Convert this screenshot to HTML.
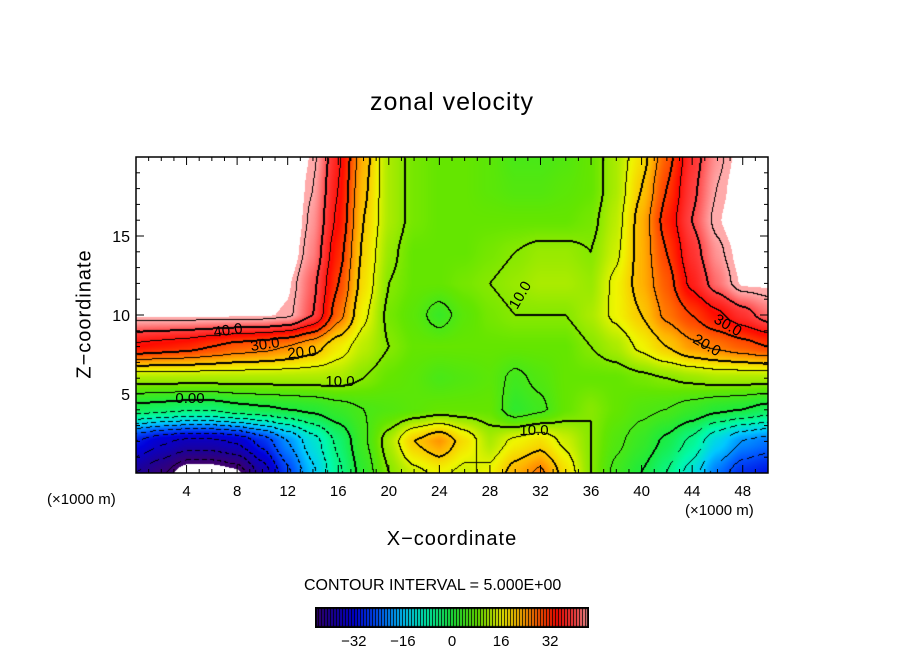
<!DOCTYPE html>
<html><head><meta charset="utf-8"><style>
body{margin:0;background:#fff;width:904px;height:654px;overflow:hidden;position:relative;font-family:"Liberation Sans",sans-serif}
.t{position:absolute;white-space:nowrap;color:#000}
</style></head><body>
<div class="t" style="left:0;width:904px;text-align:center;top:88px;font-size:25px;letter-spacing:1px">zonal velocity</div>
<canvas id="field" width="632" height="316" style="position:absolute;left:136px;top:157px"></canvas>
<svg id="ov" width="904" height="654" style="position:absolute;left:0;top:0"></svg>
<div class="t" style="left:85px;top:314px;font-size:20px;transform:translate(-50%,-50%) rotate(-90deg);letter-spacing:1px">Z−coordinate</div>
<div class="t" style="left:0;width:904px;text-align:center;top:528px;font-size:20px;letter-spacing:1px">X−coordinate</div>
<div class="t" style="left:47px;top:491px;font-size:15px">(×1000 m)</div>
<div class="t" style="left:685px;top:502px;font-size:15px">(×1000 m)</div>
<div class="t" style="left:304px;top:577px;font-size:16px">CONTOUR INTERVAL = 5.000E+00</div>
<canvas id="cbar" width="274" height="21" style="position:absolute;left:315px;top:607px"></canvas>
<script>
const xTicks=[4,8,12,16,20,24,28,32,36,40,44,48];
const zTicks=[5,10,15];
const cbTicks=[-32,-16,0,16,32];
const zLevels=[20,18,16,14,12,10,8,6,4,2,0];
const xGrid=[0,2,4,6,8,10,12,14,16,18,20,22,24,26,28,30,32,34,36,38,40,42,44,46,48,50];
const u20=[50,50,50,50,50,50,50,46,36,22,12,9,8,8,7,5,5,6,8,12,18,28,38,44,48,50];
const u18=[50,50,50,50,50,50,50,45,35,21,12,9,8,8,7,6,6,7,8,12,20,30,39,45,49,50];
const u16=[50,50,50,50,50,50,50,44,34,20,12,9,8,8,8,8,8,8,9,13,22,32,40,46,50,50];
const u14=[50,50,50,50,50,50,49,43,32,19,11,8,8,8,9,10,11,11,10,14,22,30,38,44,48,50];
const u12=[50,50,50,50,50,50,47,41,30,18,10,8,8,9,10,11,12,12,11,16,22,28,36,42,47,47];
const u10=[47,47,47,47,47,47,46,40,27,16,9,7,3,7,9,10,10,10,12,16,20,26,30,34,38,42];
const u8=[34,33,32,30,28,27,25,22,17,13,10,8,8,8,8,8,8,8,10,12,16,20,24,26,28,30];
const u6=[12,12,12,12,12,12,12,12,12,10,8,7,5,6,7,4,6,8,8,8,9,10,11,12,12,12];
const u4=[-2,-3,-4,-4,-2,-1,0,1,3,5,6,7,8,8,8,2,4,8,10,8,6,5,3,1,0,-2];
const u2=[-30,-34,-36,-36,-34,-28,-20,-12,-4,4,12,20,24,18,12,16,18,14,10,6,3,-1,-6,-14,-20,-22];
const u0=[-40,-44,-50,-50,-48,-38,-26,-16,-6,2,10,14,16,14,16,22,26,18,10,4,0,-5,-12,-22,-28,-30];
const rows=[u20,u18,u16,u14,u12,u10,u8,u6,u4,u2,u0];

const X0=136,X1=768,Y0=473,Y1=157;
const xs=v=>X0+(v-0)/50*(X1-X0);
const ys=v=>Y0-(v-0)/20*(Y0-Y1);
const stops=[[-46,[60,0,110]],[-40,[30,0,150]],[-32,[0,0,220]],[-24,[0,90,255]],[-16,[0,200,255]],[-8,[0,250,170]],[0,[30,235,60]],[8,[100,230,0]],[12,[170,235,0]],[16,[240,245,0]],[22,[255,180,0]],[28,[255,90,0]],[34,[255,10,0]],[40,[255,70,70]],[45,[255,170,170]]];
function col(v){
  if(v>46.5)return[255,255,255];if(v<-47)return[255,255,255];
  if(v<=stops[0][0])return stops[0][1];
  for(let i=1;i<stops.length;i++){if(v<=stops[i][0]){const a=stops[i-1],b=stops[i],t=(v-a[0])/(b[0]-a[0]);return a[1].map((c,k)=>c+(b[1][k]-c)*t);}}
  return stops[stops.length-1][1];
}
function val(x,z){
  let fx=(x-xGrid[0])/(xGrid[1]-xGrid[0]);fx=Math.max(0,Math.min(xGrid.length-1.0001,fx));
  let fz=(zLevels[0]-z)/(zLevels[0]-zLevels[1]);fz=Math.max(0,Math.min(zLevels.length-1.0001,fz));
  const i=Math.floor(fx),j=Math.floor(fz),tx=fx-i,tz=fz-j;
  const a=rows[j][i],b=rows[j][i+1],c=rows[j+1][i],d=rows[j+1][i+1];
  const sx=tx*tx*(3-2*tx)*0.5+tx*0.5,sz=tz*tz*(3-2*tz)*0.5+tz*0.5;
  return (a*(1-sx)+b*sx)*(1-sz)+(c*(1-sx)+d*sx)*sz;
}
const cv=document.getElementById('field'),ctx=cv.getContext('2d');
const W=cv.width,H=cv.height,img=ctx.createImageData(W,H);
const V=new Float32Array(W*H);
for(let py=0;py<H;py++)for(let px=0;px<W;px++){V[py*W+px]=val(px/(W-1)*50,(H-1-py)/(H-1)*20);}
for(let py=0;py<H;py++)for(let px=0;px<W;px++){
  const v=V[py*W+px];let c=col(v);
  const l=Math.floor(v/5);let line=false;
  const nb=[[1,0],[0,1]];
  for(const [dx,dy] of nb){const qx=px+dx,qy=py+dy;if(qx<W&&qy<H){const w=V[qy*W+qx],l2=Math.floor(w/5);if(l2!==l){line=true;const lv=Math.max(l,l2)*5;if(lv<=-5&&((px+py)%8)>4)line=false;if(lv>45||lv<-45)line=false;}}}
  if(!line&&px>0&&py>0){const w=V[py*W+px-1],w2=V[(py-1)*W+px];for(const q of [w,w2]){const l2=Math.floor(q/5);if(l2!==l){const lv=Math.max(l,l2)*5;if(lv%10===0&&lv<=45&&lv>=0)line=true;}}}
  if(line)c=[0,0,0];
  const k=(py*W+px)*4;img.data[k]=c[0];img.data[k+1]=c[1];img.data[k+2]=c[2];img.data[k+3]=255;
}
ctx.putImageData(img,0,0);

const cb=document.getElementById('cbar'),cc=cb.getContext('2d');
cc.fillStyle='#000';cc.fillRect(0,0,274,21);
for(let px=2;px<272;px++){const v=-44+(px-2)/270*88;const c=col(Math.min(v,45));cc.fillStyle=(px%3===0)?'rgba(0,0,0,1)':`rgb(${c.map(Math.round).join(',')})`;cc.fillRect(px,2,1,17);}

const svg=document.getElementById('ov'),NS='http://www.w3.org/2000/svg';
function mk(t,a,txt){const e=document.createElementNS(NS,t);for(const k in a)e.setAttribute(k,a[k]);if(txt!==undefined)e.textContent=txt;svg.appendChild(e);return e;}
const fr=mk('rect',{x:X0,y:Y1,width:X1-X0,height:Y0-Y1,fill:'none',stroke:'#000','stroke-width':1.5});


for(const t of xTicks){const x=xs(t);
  const l=mk('line',{x1:x,x2:x,y1:Y0,y2:Y0-8,stroke:'#000'});
  const l2=mk('line',{x1:x,x2:x,y1:Y1,y2:Y1+8,stroke:'#000'});
  const tx=mk('text',{x:x,y:496,'text-anchor':'middle','font-size':15,'font-family':'Liberation Sans'},String(t));}
for(const t of zTicks){const y=ys(t);
  const l=mk('line',{x1:X0,x2:X0+8,y1:y,y2:y,stroke:'#000'});
  const l2=mk('line',{x1:X1,x2:X1-8,y1:y,y2:y,stroke:'#000'});
  const tx=mk('text',{x:X0-6,y:y+6,'text-anchor':'end','font-size':16,'font-family':'Liberation Sans'},String(t));}
for(let z=1;z<20;z++){if(z%5){const y=ys(z);mk('line',{x1:X0,x2:X0+4,y1:y,y2:y,stroke:'#000'});mk('line',{x1:X1,x2:X1-4,y1:y,y2:y,stroke:'#000'});}}
for(let x=1;x<50;x++){if(x%4){const px=xs(x);mk('line',{x1:px,x2:px,y1:Y0,y2:Y0-4,stroke:'#000'});mk('line',{x1:px,x2:px,y1:Y1,y2:Y1+4,stroke:'#000'});}}
const cbX=v=>315+2+(v+44)/88*270;
for(const t of cbTicks){const tx=mk('text',{x:cbX(t),y:646,'text-anchor':'middle','font-size':15,'font-family':'Liberation Sans'},String(t).replace('-','−'));}
const labs=[[228,335,'40.0',-8],[265,349,'30.0',-8],[302,357,'20.0',-6],[340,386,'10.0',0],[190,403,'0.00',0],[520,300,'10.0',-60],[534,435,'10.0',0],[728,330,'30.0',30],[707,350,'20.0',30]];
for(const [x,y,s,r] of labs){const tx=mk('text',{x:x,y:y,'text-anchor':'middle','font-size':15,'font-family':'Liberation Sans',transform:`rotate(${r} ${x} ${y-5})`},s);}
</script>
</body></html>
